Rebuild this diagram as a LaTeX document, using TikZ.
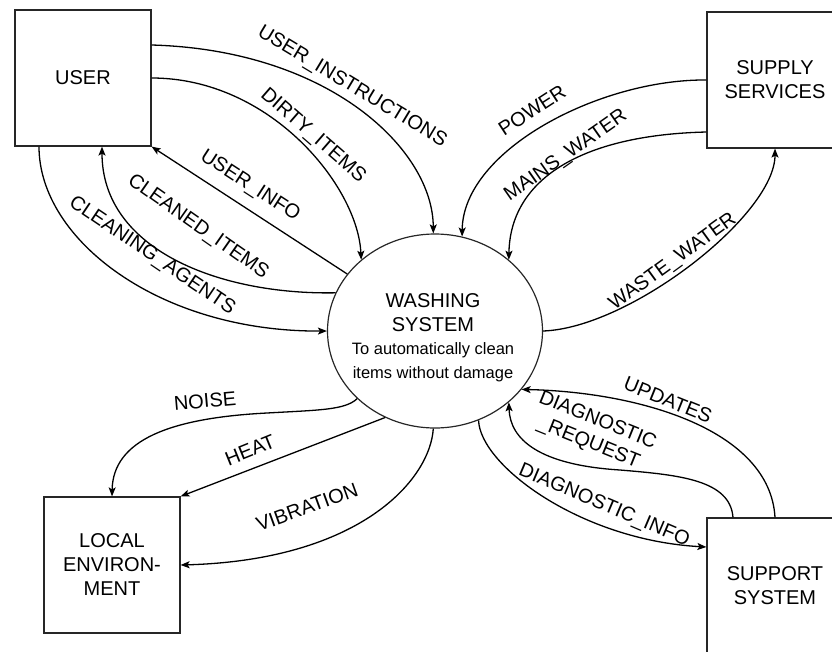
\documentclass[tikz,border=0pt]{standalone}
\usepackage{fontspec}
\setmainfont{Liberation Sans}
\usetikzlibrary{shapes.geometric,arrows.meta,calc}
\begin{document}
\begin{tikzpicture}[x=1pt,y=-1pt,
  box/.style={draw=black!85, line width=1.2pt, minimum width=136pt, minimum height=136pt, inner sep=0pt, align=center, font=\fontsize{20}{24}\selectfont},
  flow/.style={line width=1.3pt, -{Stealth[length=9pt,width=7pt,inset=2pt]}},
  lbl/.style={font=\fontsize{20}{24}\selectfont, inner sep=0pt, align=center}]
\useasboundingbox (0,0) rectangle (832,651);
% entities
\node[box] (user) at (83,78) {USER};
\node[box] (supply) at (775,80) {SUPPLY\\SERVICES};
\node[box] (local) at (112,565) {LOCAL\\ENVIRON-\\MENT};
\node[box] (support) at (775,586) {SUPPORT\\SYSTEM};
% process
\node[ellipse, draw=black!85, line width=1.2pt, minimum width=215pt, minimum height=194pt, inner sep=0pt] (ws) at (435,331) {};
\node[align=center, inner sep=0pt, font=\fontsize{20}{24}\selectfont] (wst) at (433,338) {WASHING\\SYSTEM\\[-1pt]\fontsize{16.5}{20}\selectfont To automatically clean\\\fontsize{16.5}{20}\selectfont items without damage};
% flows
\draw[flow] ($(user.east)+(0,-33)$) .. controls (330,50) and (433,150) .. (ws.91);
\draw[flow] (user.east) .. controls (271,78) and (358,187) .. (ws.136);
\draw[flow] (ws.147) -- (user.south east);
\draw[flow] (ws.159) .. controls (220,295) and (102,250) .. ($(user.south)+(19,0)$);
\draw[flow] ($(user.south)+(-44,0)$) .. controls (39,240) and (160,332) .. (ws.180);
\draw[flow] (supply.west) .. controls (600,79) and (463,150) .. (ws.74);
\draw[flow] ($(supply.west)+(0,52)$) .. controls (580,135) and (510,180) .. (ws.44);
\draw[flow] (ws.0) .. controls (630,328) and (775,215) .. (supply.south);
\draw[flow] (ws.221) .. controls (345,410) and (320,410) .. (267,413) .. controls (170,418) and (113,440) .. (local.north);
\draw[flow] (ws.240) -- (local.north east);
\draw[flow] (ws.269) .. controls (430,480) and (360,560) .. (local.east);
\draw[flow] (support.north) .. controls (770,430) and (640,392) .. (ws.326);
\draw[flow] ($(support.north)+(-42,0)$) .. controls (730,480) and (680,475) .. (620,470) .. controls (540,465) and (510,440) .. (ws.316);
\draw[flow] (ws.296) .. controls (480,465) and (580,540) .. ($(support.west)+(0,-39)$);
% labels
\node[lbl, rotate=-31] (l1) at (352,87) {USER\_INSTRUCTIONS};
\node[lbl, rotate=-41] (l2) at (313,136) {DIRTY\_ITEMS};
\node[lbl, rotate=-33] (l3) at (250,186) {USER\_INFO};
\node[lbl, rotate=-35] (l4) at (198,227) {CLEANED\_ITEMS};
\node[lbl, rotate=-34] (l5) at (152,256) {CLEANING\_AGENTS};
\node[lbl, rotate=33] (l6) at (532,110) {POWER};
\node[lbl, rotate=35] (l7) at (566,156) {MAINS\_WATER};
\node[lbl, rotate=36] (l8) at (673,262) {WASTE\_WATER};
\node[lbl, rotate=5] (l9) at (205,401) {NOISE};
\node[lbl, rotate=22] (l10) at (250,450) {HEAT};
\node[lbl, rotate=20] (l11) at (307,507) {VIBRATION};
\node[lbl, rotate=-22] (l12) at (668,400) {UPDATES};
\node[lbl, rotate=-22] (l13) at (593,432) {DIAGNOSTIC\\\_REQUEST};
\node[lbl, rotate=-23] (l14) at (604,506) {DIAGNOSTIC\_INFO};
\end{tikzpicture}
\end{document}
